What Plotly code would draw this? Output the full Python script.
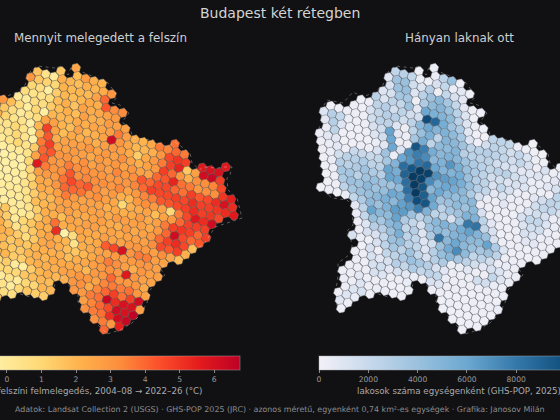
import plotly.graph_objects as go

N = None
ROW_START = [0,-2,-5,-6,-6,-7,-8,-10,-11,-14,-15,-15,-15,-16,-16,-16,-16,-16,-16,-16,-17,-13,-13,-13,-13,-14,-13,-14,-14,-15,-16,-16,-16,-17,-17,-17]

# surface warming, tenths of a degree, one list per hex row
HEAT_TENTHS = [
 [25],
 [15,N,18,28,22,21],
 [16,4,0,22,20,18,22,20,23,30],
 [30,15,11,10,21,19,20,19,26,40],
 [10,7,-2,13,20,18,20,24,22,43,33,33],
 [7,4,4,7,18,22,16,26,23,24,27,29],
 [0,-1,7,7,13,18,22,18,27,22,23,28,27,27,N,N,N,N,N,38],
 [30,18,7,-2,10,-2,20,20,20,24,22,25,25,27,36,27,22,21,24,36,34,40,36,N,N,N,N,57],
 [24,15,7,0,4,7,26,27,21,18,27,20,22,26,62,30,25,20,20,22,30,46,50,48,N,57,60,60],
 [0,0,0,22,11,4,4,-3,20,48,26,18,24,22,26,22,27,29,27,23,13,24,29,36,48,54,15,27,62,64,48],
 [0,0,0,0,4,4,10,4,-3,24,43,22,26,27,27,30,26,29,27,32,26,22,26,29,48,40,30,22,32,32,34,46],
 [0,0,0,0,4,4,10,4,-4,36,48,27,27,29,27,24,29,27,30,26,30,26,26,40,43,54,38,36,30,32,32,50,55],
 [0,0,0,0,0,4,10,4,13,40,43,30,30,27,32,26,30,27,34,30,32,43,40,46,46,40,38,48,43,46,52,60,52],
 [0,0,0,0,-2,-2,0,0,4,26,43,30,29,36,32,32,30,30,29,30,30,34,40,48,46,46,48,46,52,48,48,50,52,57],
 [0,0,0,-2,-3,-4,-2,-3,10,57,36,30,32,43,32,34,32,32,30,34,26,29,34,36,43,43,46,48,52,48,50,46],
 [0,0,-2,-2,-2,-3,-3,-3,10,27,29,29,38,46,40,43,32,27,29,22,20,29,32,29,26,10,36,46,57,52,62],
 [0,0,-2,-2,-3,-3,-2,0,10,24,24,30,40,40,38,30,32,27,24,10,22,24,26,18,26,29,40,48,48,48],
 [0,0,-2,-2,-3,-2,-2,4,13,24,22,27,36,29,26,27,26,22,24,22,24,29,24,27,36,48,50,48,40,48],
 [0,0,-2,-2,-2,0,0,4,13,20,20,26,27,26,27,26,27,24,29,27,27,27,24,29,40,62,46,40,43],
 [0,0,-2,0,-2,0,0,4,18,20,22,27,27,24,24,26,27,24,22,29,24,26,29,40,48,52,46,18],
 [0,0,-2,-2,-2,-2,0,0,4,13,22,22,18,26,24,27,27,24,26,24,26,27,27,32,46,43,48,22],
 [4,15,0,0,4,15,24,38,22,24,26,24,24,27,26,26,29,30,29,27,32,26,18],
 [18,13,0,10,15,22,22,52,-4,7,24,22,24,42,46,60,30,36,36,27,26],
 [22,15,4,10,15,22,26,22,20,4,22,24,26,26,29,27,29,30,30,27],
 [22,20,13,7,15,24,26,22,18,15,20,24,29,36,32,27,22,30,27,27],
 [18,20,15,18,15,20,22,22,22,18,22,24,27,29,32,30,57,30,27,26],
 [18,15,15,20,22,20,24,24,24,24,20,29,30,40,30,29,30,24],
 [20,20,13,13,20,22,22,22,26,27,30,30,26,34,36,36,38,30,26],
 [10,13,0,-2,13,20,22,20,22,30,32,24,34,40,48,38,48,62],
 [10,10,10,10,15,18,20,18,N,N,30,29,36,38,64,52,60,60,27],
 [13,10,0,4,0,10,10,20,20,N,N,N,27,34,40,46,62,60,66],
 [15,15,4,0,10,15,13,13,N,N,N,N,32,36,38,52,62,64],
 [15,15,7,7,N,N,N,N,N,N,N,N,N,32,36,30,55],
 [15,15,15,N,N,N,N,N,N,N,N,N,N,N,N,40],
 [15,15],
 [15],
]

# residents per hex, hundreds, same rows
POP_HUNDREDS = [
 [3],
 [2,N,4,25,41,2],
 [23,26,22,4,3,13,22,4,8,2],
 [8,38,41,16,11,28,3,22,13,8],
 [13,40,42,10,26,38,47,35,22,8,3,2],
 [10,14,35,35,3,32,45,50,40,26,10,2],
 [26,11,25,22,38,8,60,53,50,45,26,10,3,2,N,N,N,N,N,1],
 [2,3,25,28,16,25,16,16,100,88,56,38,32,8,2,1,25,25,22,4,3,2,1,N,N,N,N,1],
 [3,2,13,22,28,28,16,25,47,60,50,52,45,35,10,2,16,25,22,16,22,11,3,2,N,2,2,2],
 [2,2,3,3,3,16,25,25,10,3,25,41,53,25,50,47,38,25,26,28,25,22,16,22,13,3,13,3,3,3,3],
 [10,28,22,4,2,3,13,16,62,8,3,35,56,25,45,45,50,28,26,25,25,16,13,13,8,8,10,4,8,10,16,4],
 [8,28,10,2,2,3,10,16,60,3,3,96,78,56,47,52,47,38,32,26,22,25,26,16,13,4,4,8,13,10,10,8,3],
 [4,25,2,2,2,2,4,8,60,10,70,78,72,47,52,68,54,41,32,25,16,16,10,13,10,4,3,3,25,25,16,13,3],
 [3,8,8,2,2,3,3,13,38,4,60,67,82,88,60,50,50,56,40,28,25,13,22,13,4,3,8,16,25,22,16,13,8,3],
 [3,4,8,3,20,20,20,22,35,50,85,96,110,106,70,65,62,54,41,28,22,8,10,4,3,3,16,22,22,13,13,8],
 [3,4,16,26,28,32,25,25,62,55,90,110,106,72,53,60,56,47,32,16,4,4,8,3,3,10,16,13,4,4,4],
 [2,4,28,26,32,38,32,28,62,60,85,110,96,47,60,47,42,45,47,4,3,3,3,2,13,22,22,10,4,4],
 [2,3,35,35,26,38,42,38,38,45,85,110,92,62,38,40,45,38,47,13,3,3,2,3,11,16,16,4,3,3],
 [2,3,32,40,38,47,38,42,60,58,78,100,96,58,26,35,38,52,52,25,8,3,2,3,13,10,4,4,3],
 [2,3,25,35,40,42,47,54,47,63,67,78,52,25,25,13,35,80,82,22,13,2,2,3,8,8,3,3],
 [1,3,2,4,22,32,47,40,52,65,65,40,25,35,47,52,47,56,63,50,41,13,3,3,3,2,3,3],
 [8,25,62,47,45,62,32,22,13,38,45,42,50,54,47,45,62,32,10,3,3,2,2],
 [4,22,42,35,47,52,22,28,10,32,82,47,60,47,41,35,38,25,3,3,3],
 [3,10,28,28,40,54,25,22,10,16,41,58,72,45,22,25,16,4,4,3],
 [3,13,13,22,40,42,26,22,10,28,42,47,35,25,16,8,13,10,4,3],
 [13,4,3,13,25,35,25,38,22,13,28,32,4,4,8,3,3,22,10,3],
 [2,13,3,22,25,32,40,35,28,13,8,3,3,3,16,16,4,2],
 [3,3,13,8,13,28,22,32,22,25,22,4,3,3,3,3,4,3,2],
 [3,3,13,16,8,13,8,4,3,13,10,3,3,2,2,2,3,2],
 [3,3,4,13,10,3,3,4,N,N,3,3,2,2,2,3,2,3,4],
 [3,3,8,3,3,3,2,2,3,N,N,N,2,3,2,2,3,3,2],
 [4,3,10,3,4,3,2,2,N,N,N,N,2,2,2,2,2,2],
 [3,10,13,2,N,N,N,N,N,N,N,N,N,2,2,2,2],
 [3,10,4,N,N,N,N,N,N,N,N,N,N,N,N,2],
 [8,3],
 [2],
]

BORDER_X = [72,82,97,107,115,117,112,120,129,122,130,133,153,158,167,175,182,190,192,200,202,217,225,232,230,227,228,237,242,230,215,208,203,192,178,172,160,165,157,150,147,140,132,120,107,98,88,78,78,68,65,57,53,43,30,17,0,-8,-15,-21,-22,-20,-20,-13,-5,-7,-12,-5,-6,-11,-26,-33,-38,-30,-32,-38,-40,-35,-38,-31,-15,-5,5,17,25,30,37,55,62,68,72]
BORDER_Y = [65,72,78,82,92,97,103,105,113,122,128,138,140,143,147,142,147,153,163,170,167,168,167,167,175,178,190,198,218,222,227,238,245,250,263,260,268,275,282,290,303,315,323,330,334,325,313,302,293,285,278,278,290,298,297,293,297,305,310,307,290,275,263,258,252,240,232,225,205,200,198,192,187,178,160,150,130,120,112,100,103,92,97,92,85,72,66,68,66,75,65]

HEAT_TICKS = [0, 1, 2, 3, 4, 5, 6]
POP_TICKS = [0, 2000, 4000, 6000, 8000, 10000]
TITLE = "Budapest két rétegben"
LEFT_TITLE = "Mennyit melegedett a felszín"
RIGHT_TITLE = "Hányan laknak ott"
HEAT_LABEL = "felszíni felmelegedés, 2004–08 → 2022–26 (°C)"
POP_LABEL = "lakosok száma egységenként (GHS-POP, 2025)"
FOOTER = "Adatok: Landsat Collection 2 (USGS) · GHS-POP 2025 (JRC) · azonos méretű, egyenként 0,74 km²-es egységek · Grafika: Janosov Milán"

BG = "#111114"
FONT = "DejaVu Sans"
W, H = 560, 420
# lattice of the tilted hexagon grid
AX, AY, BX, BY, OX, OY = 8.25, 2.5, 1.35, 8.08, 76, 68
TILT = 17

def cells(rows, scale):
    xs, ys, vs = [], [], []
    for j, (start, row) in enumerate(zip(ROW_START, rows)):
        for k, v in enumerate(row):
            if v is None:
                continue
            i = start + k
            xs.append(OX + AX * i + BX * j)
            ys.append(OY + AY * i + BY * j)
            vs.append(v * scale)
    return xs, ys, vs

HEAT_SCALE = [[0, "rgb(255,255,204)"], [1/7, "rgb(255,237,160)"], [2/7, "rgb(254,217,118)"],
              [3/7, "rgb(254,178,76)"], [4/7, "rgb(253,141,60)"], [5/7, "rgb(252,78,42)"],
              [6/7, "rgb(227,26,28)"], [1, "rgb(189,0,38)"]]
POP_SCALE = [[0, "rgb(243,241,248)"], [0.176, "rgb(200,217,236)"], [0.352, "rgb(155,193,222)"],
             [0.528, "rgb(108,168,209)"], [0.704, "rgb(52,120,170)"], [0.88, "rgb(15,78,124)"],
             [1, "rgb(5,52,88)"]]

def colorbar(px_left, label, ticks):
    return dict(orientation="h", x=px_left / W, xanchor="left", xpad=0, y=1 - 356 / H, yanchor="top", ypad=0,
                lenmode="pixels", len=280, thicknessmode="pixels", thickness=14,
                outlinecolor="rgba(170,170,170,0.45)", outlinewidth=1, bgcolor="rgba(0,0,0,0)",
                tickmode="array", tickvals=ticks, ticks="outside", ticklen=3, tickwidth=0.7, tickcolor="#888888",
                tickfont=dict(family=FONT, size=7.6, color="#999999"),
                title=dict(text=label, side="bottom", font=dict(family=FONT, size=8.7, color="#aaaaaa")))

fig = go.Figure()
hx, hy, hv = cells(HEAT_TENTHS, 0.1)
fig.add_trace(go.Scatter(x=hx, y=hy, mode="markers", xaxis="x", yaxis="y", hoverinfo="skip", showlegend=False,
    marker=dict(symbol="hexagon", size=9.8, angle=TILT, color=hv, colorscale=HEAT_SCALE, cmin=-1.36, cmax=6.75,
                line=dict(color="rgba(120,112,100,0.8)", width=0.55), colorbar=colorbar(-40, HEAT_LABEL, HEAT_TICKS))))
px, py, pv = cells(POP_HUNDREDS, 100)
fig.add_trace(go.Scatter(x=px, y=py, mode="markers", xaxis="x2", yaxis="y2", hoverinfo="skip", showlegend=False,
    marker=dict(symbol="hexagon", size=9.8, angle=TILT, color=pv, colorscale=POP_SCALE, cmin=0, cmax=11360,
                line=dict(color="rgba(130,130,138,0.8)", width=0.55), colorbar=colorbar(319, POP_LABEL, POP_TICKS))))
for xa, ya in (("x", "y"), ("x2", "y2")):
    fig.add_trace(go.Scatter(x=BORDER_X, y=BORDER_Y, mode="lines", xaxis=xa, yaxis=ya, hoverinfo="skip", showlegend=False,
                             line=dict(color="rgba(225,225,225,0.6)", width=0.6, dash="3px,3.5px")))

hidden = dict(visible=False, showgrid=False, zeroline=False)
def note(text, px_x, px_y, size, color):
    return dict(text=text, x=px_x / W, y=1 - px_y / H, xref="paper", yref="paper", xanchor="center", yanchor="middle",
                showarrow=False, font=dict(family=FONT, size=size, color=color))
fig.update_layout(
    width=W, height=H, paper_bgcolor=BG, plot_bgcolor=BG,
    margin=dict(l=0, r=0, t=0, b=0, pad=0, autoexpand=False),
    xaxis=dict(domain=[0, 0.5], range=[0, 280], **hidden),
    yaxis=dict(domain=[0, 1], range=[420, 0], **hidden),
    xaxis2=dict(domain=[0.5, 1], range=[-78, 202], **hidden),
    yaxis2=dict(domain=[0, 1], range=[420, 0], **hidden),
    annotations=[
        note(TITLE, 280, 13.5, 14, "#d4d4d4"),
        note(LEFT_TITLE, 100, 37.5, 11.9, "#cfcfcf"),
        note(RIGHT_TITLE, 459, 37.5, 11.9, "#cfcfcf"),
        note(FOOTER, 279.5, 409.7, 7.9, "#8c8c8c"),
    ],
)
fig.write_html("out.html", config=dict(displayModeBar=False),
               post_script="document.body.style.margin='0';document.body.style.background='#111114';")
